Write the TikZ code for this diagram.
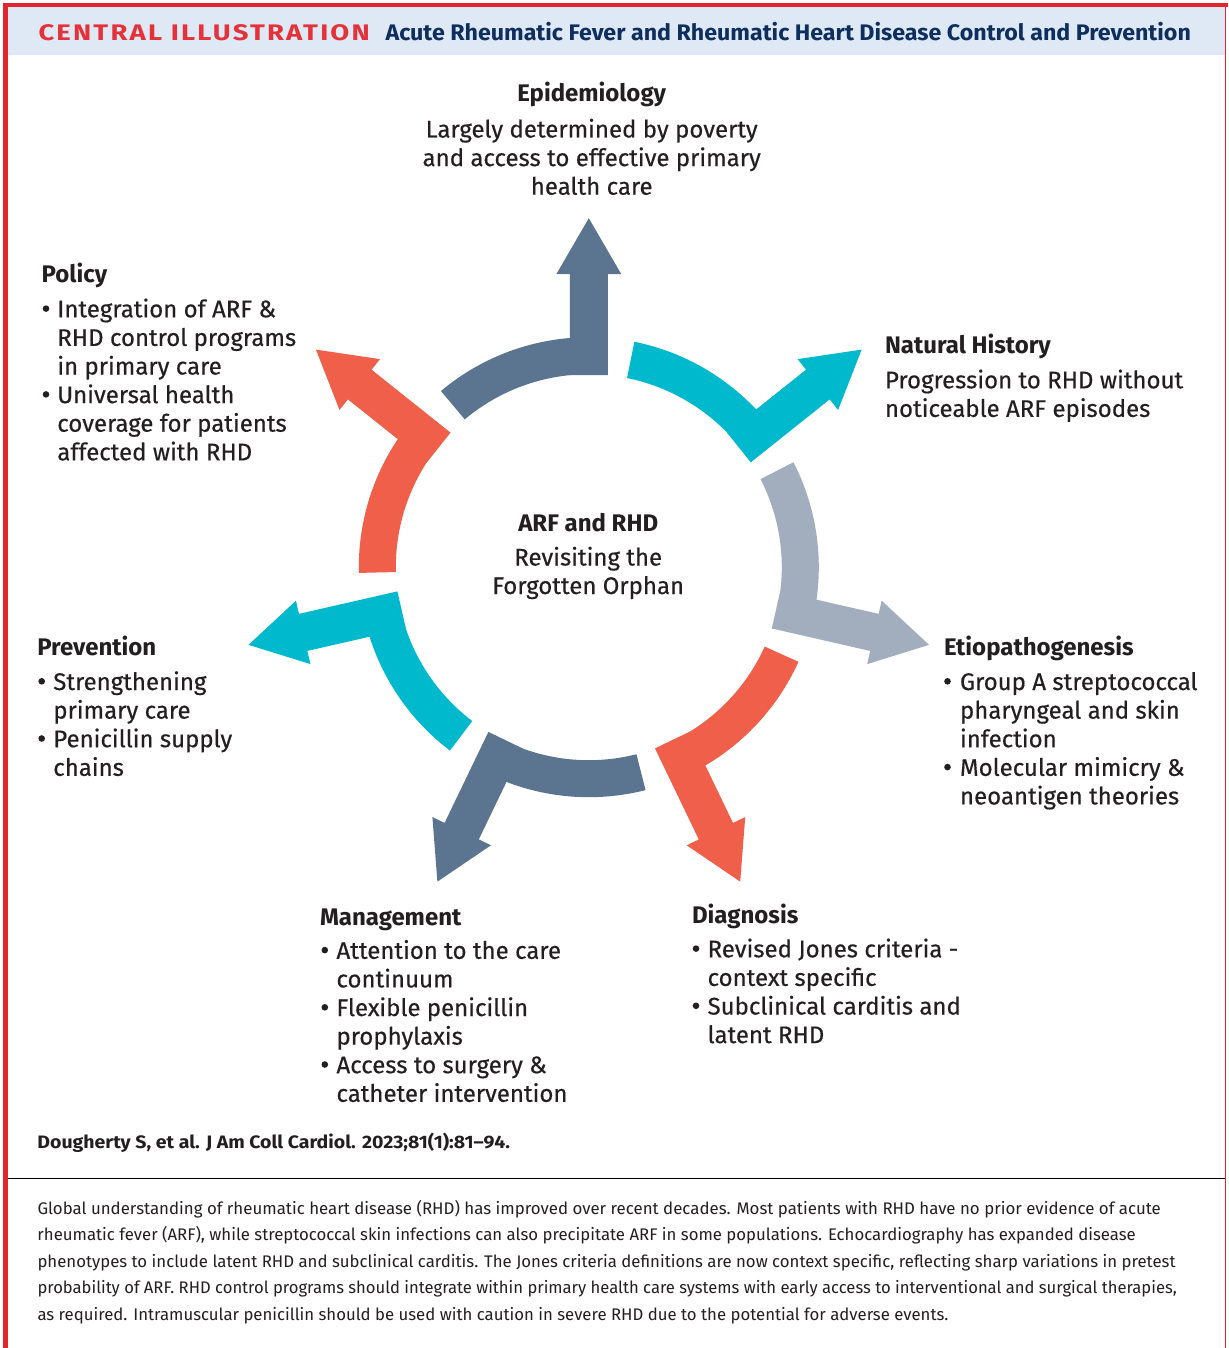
\documentclass[tikz,border=0pt]{standalone}
\usepackage{fontspec}
\usepackage{graphicx}
\setmainfont{Fira Sans}
\newfontfamily\bodyfont{Fira Sans}[FakeBold=0.4]
\definecolor{slateC}{HTML}{5B7591}
\definecolor{cyanC}{HTML}{00B9CD}
\definecolor{grayC}{HTML}{A2ADBE}
\definecolor{orangeC}{HTML}{F05F4A}
\definecolor{txt}{HTML}{231F20}
\definecolor{hdrred}{HTML}{E5323A}
\definecolor{navy}{HTML}{0E2F5E}
\definecolor{band}{HTML}{DEE9F5}
\definecolor{frame}{HTML}{E3262D}
\newcommand\fitw[2]{\resizebox{#1}{\height}{#2}}
\begin{document}
\begin{tikzpicture}[x=1pt,y=-1pt,
  bd/.style={inner sep=0pt, outer sep=0pt, text=txt, font=\bodyfont\fontsize{24}{28.6}\selectfont, anchor=base west},
  hd/.style={bd, font=\bfseries\fontsize{24}{28.6}\selectfont},
  dot/.style={circle, fill=txt, inner sep=0pt, minimum size=6.6pt},
  par/.style={inner sep=0pt, outer sep=0pt, text=txt, font=\fontsize{16.8}{26.5}\selectfont, anchor=base west}]
\useasboundingbox (0,0) rectangle (1228,1348);
\fill[white] (0,0) rectangle (1228,1348);
% header band and frame
\fill[band] (5,5) rectangle (1225.5,55);
\draw[frame, line width=4.6pt] (3,5) -- (1228,5);
\draw[frame, line width=5pt] (5.8,3) -- (5.8,1348);
\draw[frame, line width=1.2pt] (1225.8,5) -- (1225.8,1348);
\draw[black, line width=1.6pt] (8,1178.3) -- (1225.2,1178.3);
% header text
\node[inner sep=0pt, anchor=base west, text=hdrred, font=\bfseries\fontsize{22.5}{27}\selectfont\addfontfeature{LetterSpace=8}] (ci) at (38.3,40.7) {\fitw{331.3pt}{CENTRAL ILLUSTRATION}};
\node[inner sep=0pt, anchor=base west, text=navy, font=\bfseries\fontsize{22.5}{27}\selectfont] (title) at (385.4,40.7) {\fitw{805.3pt}{Acute Rheumatic Fever and Rheumatic Heart Disease Control and Prevention}};
% wheel
\begin{scope}[shift={(588.8pt,-567.2pt)}, x=1pt, y=1pt]
\foreach \k/\col in {0/slateC,1/cyanC,2/grayC,3/orangeC,4/slateC,5/cyanC,6/orangeC}{
  \pgfmathsetmacro\th{90-51.428571*\k}
  \pgfmathsetmacro\st{\th+40}
  \fill[\col] (\st:230) arc[start angle=\st, end angle=\th, radius=230] -- (\th:193) arc[start angle=\th, end angle=\st, radius=193] -- cycle;
  \fill[\col, rotate=\th] (192,-19) -- (293,-19) -- (293,-32.5) -- (349,0) -- (293,32.5) -- (293,19) -- (192,19) -- cycle;
}
\end{scope}
% Epidemiology
\node[hd, anchor=base] (epiH) at (591.7,101.7) {Epidemiology};
\foreach \t [count=\i from 0] in {Largely determined by poverty, and access to effective primary, health care}
  \node[bd, anchor=base] (epi\i) at (591.7,137.5+28.6*\i) {\t};
% Policy
\node[hd] (polH) at (41.7,282.7) {Policy};
\foreach \t [count=\i from 0] in {Integration of ARF \&, RHD control programs, in primary care, Universal health, coverage for patients, affected with RHD}
  \node[bd] (pol\i) at (57.3,317.3+28.6*\i) {\t};
\node[dot] (polB1) at (46,308.6) {};
\node[dot] (polB2) at (46,394.4) {};
% Natural History
\node[hd] (nhH) at (885,353.3) {Natural History};
\foreach \t [count=\i from 0] in {Progression to RHD without, noticeable ARF episodes}
  \node[bd] (nh\i) at (885,388.3+28.6*\i) {\t};
% Center
\node[hd, anchor=base] (cH) at (588.2,531.2) {ARF and RHD};
\foreach \t [count=\i from 0] in {Revisiting the, Forgotten Orphan}
  \node[bd, anchor=base] (c\i) at (588.2,565.5+28.5*\i) {\t};
% Prevention
\node[hd] (prH) at (37.3,655) {Prevention};
\foreach \t [count=\i from 0] in {Strengthening, primary care, Penicillin supply, chains}
  \node[bd] (pr\i) at (53.3,690+28.6*\i) {\t};
\node[dot] (prB1) at (41.7,681.3) {};
\node[dot] (prB2) at (41.7,738.5) {};
% Etiopathogenesis
\node[hd] (etH) at (944,655.7) {Etiopathogenesis};
\foreach \t [count=\i from 0] in {Group A streptococcal, pharyngeal and skin, infection, Molecular mimicry \&, neoantigen theories}
  \node[bd] (et\i) at (960,690+28.6*\i) {\t};
\node[dot] (etB1) at (947.5,681.3) {};
\node[dot] (etB2) at (947.5,767.1) {};
% Management
\node[hd] (mgH) at (320,925) {Management};
\foreach \t [count=\i from 0] in {Attention to the care, continuum, Flexible penicillin, prophylaxis, Access to surgery \&, catheter intervention}
  \node[bd] (mg\i) at (336.5,958.8+28.6*\i) {\t};
\node[dot] (mgB1) at (324.8,950.1) {};
\node[dot] (mgB2) at (324.8,1007.3) {};
\node[dot] (mgB3) at (324.8,1064.5) {};
% Diagnosis
\node[hd] (dgH) at (692,923.3) {Diagnosis};
\foreach \t [count=\i from 0] in {Revised Jones criteria -, context specific, Subclinical carditis and, latent RHD}
  \node[bd] (dg\i) at (707.6,957.3+28.6*\i) {\t};
\node[dot] (dgB1) at (696,948.6) {};
\node[dot] (dgB2) at (696,1005.8) {};
% citation
\node[par, font=\bfseries\fontsize{18}{22}\selectfont] (cite) at (37.5,1148.3) {\fitw{472.5pt}{Dougherty S, et al. J Am Coll Cardiol. 2023;81(1):81--94.}};
% paragraph
\foreach \w/\t [count=\i from 0] in {
  1123.2/{Global understanding of rheumatic heart disease (RHD) has improved over recent decades. Most patients with RHD have no prior evidence of acute},
  1098.3/{rheumatic fever (ARF), while streptococcal skin infections can also precipitate ARF in some populations. Echocardiography has expanded disease},
  1138.0/{phenotypes to include latent RHD and subclinical carditis. The Jones criteria definitions are now context specific, reflecting sharp variations in pretest},
  1139.2/{probability of ARF. RHD control programs should integrate within primary health care systems with early access to interventional and surgical therapies,},
  910.9/{as required. Intramuscular penicillin should be used with caution in severe RHD due to the potential for adverse events.}}
  \node[par] (p\i) at (37.5,1214.3+26.5*\i) {\fitw{\w pt}{\t}};
\end{tikzpicture}
\end{document}
